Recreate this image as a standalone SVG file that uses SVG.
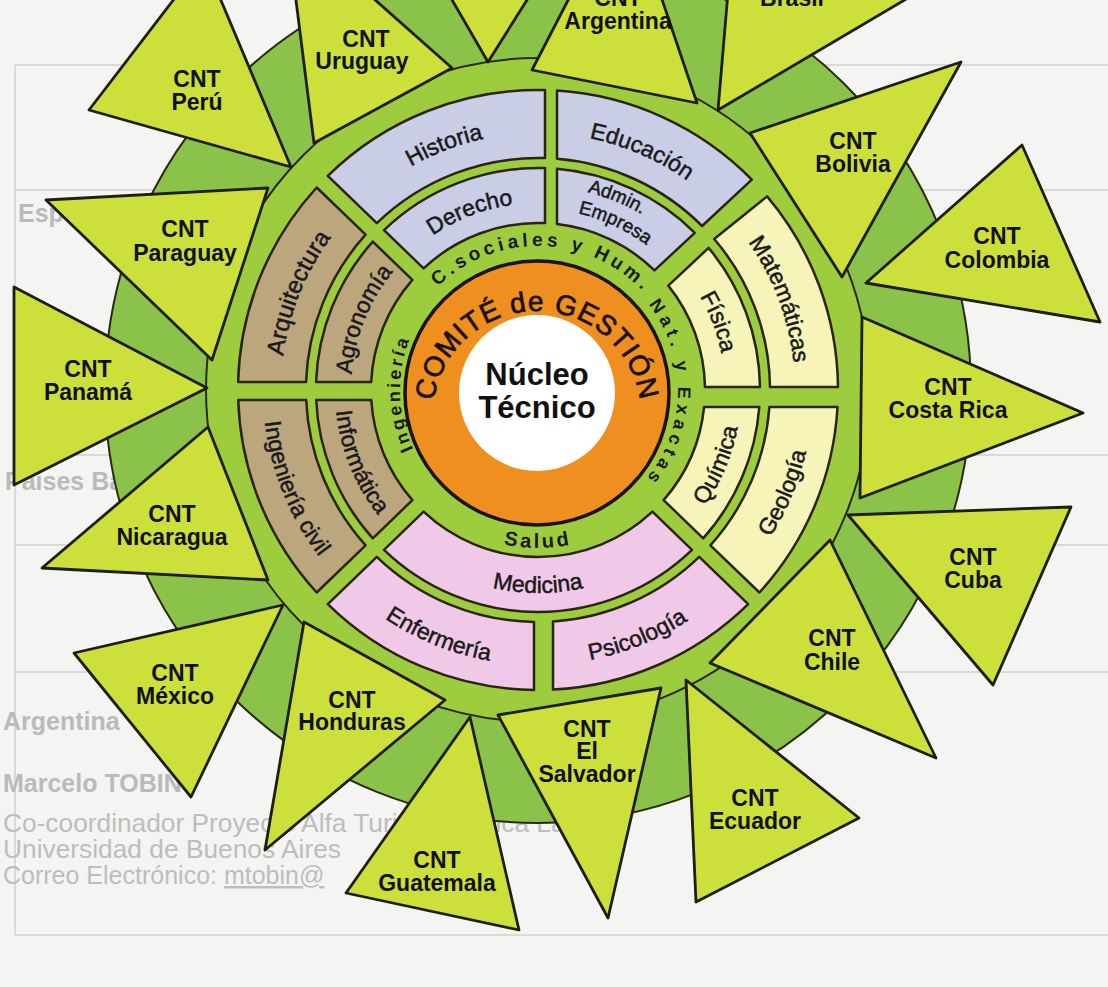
<svg xmlns="http://www.w3.org/2000/svg" width="1108" height="987" viewBox="0 0 1108 987">
<style>
.bg{fill:#f4f4f2}
.tri{fill:#cddf3a;stroke:#1e1e0c;stroke-width:2.8;stroke-linejoin:round}
.lbl{font-family:"Liberation Sans",Arial,sans-serif;font-weight:bold;font-size:23px;fill:#111;text-anchor:middle}
.seg{stroke:#2b2412;stroke-width:2.5;stroke-linejoin:round}
.blue{fill:#c9cde6}.tan{fill:#bca67e}.yel{fill:#f6f4b8}.pink{fill:#f1c9e8}
.st{font-family:"Liberation Sans",Arial,sans-serif;font-size:23px;fill:#1a1a1a;stroke:#1a1a1a;stroke-width:0.5;text-anchor:middle}
.gt{font-family:"Liberation Sans",Arial,sans-serif;font-weight:bold;font-size:18px;fill:#1a1a1a;text-anchor:middle}
.core{font-family:"Liberation Sans",Arial,sans-serif;font-weight:bold;fill:#111;text-anchor:middle}
.line{stroke:#d9d9d9;stroke-width:2;fill:none}
.bgt{font-family:"Liberation Sans",Arial,sans-serif;font-size:25px;fill:#bdbdbd}
.bgb{font-family:"Liberation Sans",Arial,sans-serif;font-size:25px;font-weight:bold;fill:#bababa}
</style>
<defs>
<path id="cw257" d="M538 647A257 257 0 1 1 538 133A257 257 0 1 1 538 647"/>
<path id="cw187" d="M538 577A187 187 0 1 1 538 203A187 187 0 1 1 538 577"/>
<path id="cw204" d="M538 594A204 204 0 1 1 538 186A204 204 0 1 1 538 594"/>
<path id="cw181" d="M538 571A181 181 0 1 1 538 209A181 181 0 1 1 538 571"/>
<path id="cw144" d="M538 534A144 144 0 1 1 538 246A144 144 0 1 1 538 534"/>
<path id="cw140" d="M538 530A140 140 0 1 1 538 250A140 140 0 1 1 538 530"/>
<path id="cw138" d="M538 528A138 138 0 1 1 538 252A138 138 0 1 1 538 528"/>
<path id="ccw275" d="M538 115A275 275 0 1 0 538 665A275 275 0 1 0 538 115"/>
<path id="ccw203" d="M538 187A203 203 0 1 0 538 593A203 203 0 1 0 538 187"/>
<path id="ccw158" d="M538 232A158 158 0 1 0 538 548A158 158 0 1 0 538 232"/>
<path id="cwcore" d="M537 519A104 104 0 1 1 537 311A104 104 0 1 1 537 519"/>
</defs>
<rect class="bg" x="0" y="0" width="1108" height="987"/>
<g id="background">
<path class="line" d="M15 65H1108M15 65V935M15 190H1108M15 455H1108M15 545H1108M15 672H1108M15 935H1108"/>
<text class="bgb" x="18" y="222">España</text>
<text class="bgb" x="5" y="490">Países Bajos</text>
<text class="bgb" x="3" y="730">Argentina</text>
<text class="bgb" x="3" y="792">Marcelo TOBIN</text>
<text class="bgt" x="3" y="832" textLength="605" lengthAdjust="spacingAndGlyphs">Co-coordinador Proyecto Alfa Turing América Latina</text>
<text class="bgt" x="3" y="858" textLength="338" lengthAdjust="spacingAndGlyphs">Universidad de Buenos Aires</text>
<text class="bgt" x="3" y="884">Correo Electrónico: <tspan text-decoration="underline">mtobin@</tspan></text>
</g>
<g id="disk">
<circle cx="538" cy="390" r="433" fill="#8bc24a" stroke="#2a2a10" stroke-width="2"/>
<circle cx="538" cy="390" r="332" fill="#9dcd3f" stroke="#2a2a10" stroke-width="2"/>
</g>
<g id="connectors"></g>
<g id="cnt-peru"><polygon class="tri" points="291,167 89,110 204,-40"/><text class="lbl" x="197" y="87">CNT</text><text class="lbl" x="197" y="110">Perú</text></g>
<g id="cnt-uruguay"><polygon class="tri" points="314,143 452,68 286,-79"/><text class="lbl" x="366" y="47">CNT</text><text class="lbl" x="362" y="69">Uruguay</text></g>
<g id="cnt-top"><polygon class="tri" points="488,62 371,-140 615,-140"/></g>
<g id="cnt-argentina"><polygon class="tri" points="532,70 697,103 625,-110"/><text class="lbl" x="618" y="6">CNT</text><text class="lbl" x="618" y="29">Argentina</text></g>
<g id="cnt-brasil"><polygon class="tri" points="718,110 735,-90 930,-15"/><text class="lbl" x="792" y="6">Brasil</text></g>
<g id="cnt-bolivia"><polygon class="tri" points="750,133 961,62 842,277"/><text class="lbl" x="853" y="149">CNT</text><text class="lbl" x="853" y="172">Bolivia</text></g>
<g id="cnt-colombia"><polygon class="tri" points="866,283 1022,145 1100,322"/><text class="lbl" x="997" y="244">CNT</text><text class="lbl" x="997" y="268">Colombia</text></g>
<g id="cnt-costarica"><polygon class="tri" points="862,317 860,498 1083,413"/><text class="lbl" x="948" y="395">CNT</text><text class="lbl" x="948" y="418">Costa Rica</text></g>
<g id="cnt-cuba"><polygon class="tri" points="848,515 1071,507 993,685"/><text class="lbl" x="973" y="565">CNT</text><text class="lbl" x="973" y="588">Cuba</text></g>
<g id="cnt-chile"><polygon class="tri" points="830,540 710,663 936,758"/><text class="lbl" x="832" y="646">CNT</text><text class="lbl" x="832" y="670">Chile</text></g>
<g id="cnt-ecuador"><polygon class="tri" points="686,680 859,818 696,902"/><text class="lbl" x="755" y="806">CNT</text><text class="lbl" x="755" y="829">Ecuador</text></g>
<g id="cnt-elsalvador"><polygon class="tri" points="498,715 661,688 608,918"/><text class="lbl" x="587" y="737">CNT</text><text class="lbl" x="587" y="759">El</text><text class="lbl" x="587" y="782">Salvador</text></g>
<g id="cnt-guatemala"><polygon class="tri" points="470,717 346,893 519,930"/><text class="lbl" x="437" y="868">CNT</text><text class="lbl" x="437" y="891">Guatemala</text></g>
<g id="cnt-honduras"><polygon class="tri" points="304,622 445,700 265,850"/><text class="lbl" x="352" y="708">CNT</text><text class="lbl" x="352" y="730">Honduras</text></g>
<g id="cnt-mexico"><polygon class="tri" points="283,605 74,653 191,797"/><text class="lbl" x="175" y="681">CNT</text><text class="lbl" x="175" y="704">México</text></g>
<g id="cnt-nicaragua"><polygon class="tri" points="208,427 268,580 42,568"/><text class="lbl" x="172" y="522">CNT</text><text class="lbl" x="172" y="545">Nicaragua</text></g>
<g id="cnt-panama"><polygon class="tri" points="207,388 14,287 14,485"/><text class="lbl" x="88" y="377">CNT</text><text class="lbl" x="88" y="400">Panamá</text></g>
<g id="cnt-paraguay"><polygon class="tri" points="268,188 212,360 46,200"/><text class="lbl" x="185" y="237">CNT</text><text class="lbl" x="185" y="261">Paraguay</text></g>

<g id="seg-historia"><path class="seg blue" d="M327.8 175.9A300 300 0 0 1 545 90.1L545 158.1A232 232 0 0 0 376.8 223.2Z"/><text class="st"><textPath href="#cw257" startOffset="44.17%">Historia</textPath></text></g>
<g id="seg-educacion"><path class="seg blue" d="M557 90.6A300 300 0 0 1 751.8 179.6L702.1 226A232 232 0 0 0 557 158.8Z"/><text class="st"><textPath href="#cw257" startOffset="56.53%">Educación</textPath></text></g>
<g id="seg-derecho"><path class="seg blue" d="M384 230.1A222 222 0 0 1 545 168.1L545 223.1A167 167 0 0 0 423.6 268.4Z"/><text class="st"><textPath href="#cw187" startOffset="44.17%">Derecho</textPath></text></g>
<g id="seg-admin"><path class="seg blue" d="M557 168.8A222 222 0 0 1 694.8 232.8L654.5 270.4A167 167 0 0 0 557 224.1Z"/><text class="st" style="font-size:19px"><textPath href="#cw204" startOffset="56.2%">Admin.</textPath></text><text class="st" style="font-size:19px"><textPath href="#cw181" startOffset="56.9%">Empresa</textPath></text></g>
<g id="seg-matematicas"><path class="seg yel" d="M767.1 196.4A300 300 0 0 1 838 387L770 387A232 232 0 0 0 714.2 239Z"/><text class="st"><textPath href="#cw257" startOffset="69.28%">Matemáticas</textPath></text></g>
<g id="seg-fisica"><path class="seg yel" d="M708.6 247.9A222 222 0 0 1 760 387L705 387A167 167 0 0 0 668.3 285.6Z"/><text class="st"><textPath href="#cw187" startOffset="69.25%">Física</textPath></text></g>
<g id="seg-geologia"><path class="seg yel" d="M837.5 407A300 300 0 0 1 759.4 592.5L710.4 545.3A232 232 0 0 0 769.4 407Z"/><text class="st"><textPath href="#ccw275" startOffset="68.69%">Geología</textPath></text></g>
<g id="seg-quimica"><path class="seg yel" d="M759.3 407A222 222 0 0 1 703.2 538.3L663.6 500.1A167 167 0 0 0 704.1 407Z"/><text class="st"><textPath href="#ccw203" startOffset="68.69%">Química</textPath></text></g>
<g id="seg-medicina"><path class="seg pink" d="M692 549.9A222 222 0 0 1 384 549.9L423.6 511.6A167 167 0 0 0 652.4 511.6Z"/><text class="st"><textPath href="#ccw203" startOffset="50%">Medicina</textPath></text></g>
<g id="seg-psicologia"><path class="seg pink" d="M748.2 604.1A300 300 0 0 1 553 689.6L553 621.5A232 232 0 0 0 699.2 556.8Z"/><text class="st"><textPath href="#ccw275" startOffset="56.11%">Psicología</textPath></text></g>
<g id="seg-enfermeria"><path class="seg pink" d="M534 690A300 300 0 0 1 327.8 604.1L376.8 556.8A232 232 0 0 0 534 622Z"/><text class="st"><textPath href="#ccw275" startOffset="43.89%">Enfermería</textPath></text></g>
<g id="seg-ingcivil"><path class="seg tan" d="M238.2 400L306.2 400A232 232 0 0 0 365.6 545.3L316.7 592.5A300 300 0 0 1 238.2 400Z"/><text class="st"><textPath href="#ccw275" startOffset="31.11%">Ingeniería civil</textPath></text></g>
<g id="seg-informatica"><path class="seg tan" d="M316.2 400L371.3 400A167 167 0 0 0 412.4 500.1L372.8 538.4A222 222 0 0 1 316.2 400Z"/><text class="st"><textPath href="#ccw203" startOffset="31.11%">Informática</textPath></text></g>
<g id="seg-arquitectura"><path class="seg tan" d="M238.1 382A300 300 0 0 1 316.7 187.5L365.6 234.7A232 232 0 0 0 306.1 382Z"/><text class="st" style="font-size:24px"><textPath href="#cw257" startOffset="31.11%">Arquitectura</textPath></text></g>
<g id="seg-agronomia"><path class="seg tan" d="M316.1 382A222 222 0 0 1 372.8 241.7L412.4 279.9A167 167 0 0 0 371.2 382Z"/><text class="st"><textPath href="#cw187" startOffset="31.11%">Agronomía</textPath></text></g>

<g id="area-labels">
<text class="gt" style="font-size:19px;letter-spacing:4px"><textPath href="#cw144" startOffset="50.5%">C.sociales y Hum.</textPath></text>
<text class="gt" style="letter-spacing:5px"><textPath href="#cw140" startOffset="75.42%">Nat. y Exactas</textPath></text>
<text class="gt" style="letter-spacing:3px"><textPath href="#cw138" startOffset="24.58%">Ingeniería</textPath></text>
<text class="gt" style="font-size:20px;letter-spacing:3px"><textPath href="#ccw158" startOffset="50%">Salud</textPath></text>
</g>
<g id="comite">
<circle cx="537" cy="393" r="132" fill="#ef8f1f" stroke="#1a1206" stroke-width="3.5"/>
<text class="core" style="font-size:28px;font-weight:normal;fill:#1a1000;stroke:#1a1000;stroke-width:0.7;letter-spacing:1px"><textPath href="#cwcore" startOffset="50%">COMITÉ de GESTIÓN</textPath></text>
</g>
<g id="nucleo">
<circle cx="537" cy="393" r="78" fill="#ffffff"/>
<text class="core" x="537" y="385" style="font-size:31px">Núcleo</text>
<text class="core" x="537" y="418" style="font-size:31px">Técnico</text>
</g>
</svg>
